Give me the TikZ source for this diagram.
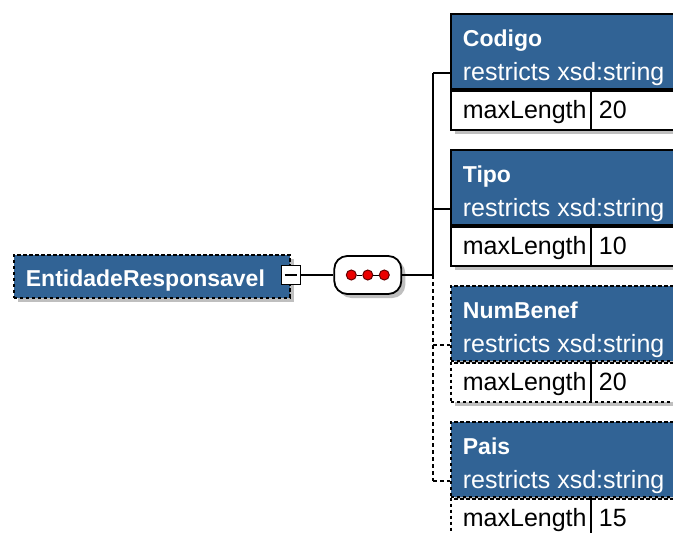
\documentclass[tikz,border=0pt]{standalone}
\usepackage{fontspec}
\setmainfont{Liberation Sans}
\usepackage{tikz}
\usetikzlibrary{positioning,shadows}

\definecolor{xsdblue}{RGB}{49,99,149}
\definecolor{seqred}{RGB}{235,0,0}

\tikzset{
	optional/.style={dash pattern=on 3.5pt off 2.5pt},
	optlink/.style={dash pattern=on 4pt off 3pt},
	boxshadow/.style={drop shadow={shadow xshift=4pt, shadow yshift=-4pt, fill=black, opacity=.25}},
	rootbox/.style={draw, fill=xsdblue, optional, boxshadow, anchor=north west, minimum width=276, minimum height=43, inner sep=0},
	elhead/.style={draw, fill=xsdblue, boxshadow, anchor=north west, minimum width=260, minimum height=75, inner sep=0},
	elfacet/.style={draw, fill=white, boxshadow, anchor=north west, minimum width=260, minimum height=39, inner sep=0},
	eltitle/.style={anchor=base west, inner sep=0, text=white, font=\fontsize{23}{27}\selectfont\bfseries},
	eltype/.style={anchor=base west, inner sep=0, text=white, font=\fontsize{25}{29}\selectfont},
	facettext/.style={anchor=base west, inner sep=0, text=black, font=\fontsize{25}{29}\selectfont},
	minusbox/.style={draw, fill=white, minimum size=19, inner sep=0},
	seqbox/.style={draw, fill=white, rounded corners=13pt, minimum width=67, minimum height=38, inner sep=0, boxshadow},
	seqdot/.style={circle, draw=black!60!red, line width=1pt, fill=seqred, minimum size=10, inner sep=0}
}

\begin{document}
\begin{tikzpicture}[x=1pt, y=-1pt, line width=1.8pt]
\useasboundingbox (0,0) rectangle (673,533);

% root element with its sequence
\node[rootbox] (root) at (13,254) {};
\node[eltitle] (rootname) at ([shift={(12,32)}]root.north west) {EntidadeResponsavel};
\node[minusbox] (minus) at (291,275) {};
\draw ([xshift=4pt]minus.west) -- ([xshift=-4pt]minus.east);
\node[seqbox, right=32pt of minus] (seq) {};
\node[seqdot] (dot2) at (seq.center) {};
\node[seqdot, left=5.5pt of dot2] (dot1) {};
\node[seqdot, right=5.5pt of dot2] (dot3) {};
\draw[line width=1pt] (dot1) -- (dot2) (dot2) -- (dot3);
\coordinate[right=31pt of seq] (fork);
\draw (minus) -- (seq);
\draw (seq) -- (fork);

% child elements
\foreach \i/\ename/\elen/\eline/\elink in {1/Codigo/20/solid/solid, 2/Tipo/10/solid/solid, 3/NumBenef/20/optional/optlink, 4/Pais/15/optional/optlink}
{
	\node[elhead, \eline] (h\i) at (450,{136*\i-123}) {};
	\node[elfacet, \eline] (f\i) at (h\i.south west) {};
	\draw ([xshift=141pt]f\i.north west) -- ([xshift=141pt]f\i.south west);
	\node[eltitle] (n\i) at ([shift={(12,33)}]h\i.north west) {\ename};
	\node[eltype] (t\i) at ([shift={(12,67)}]h\i.north west) {restricts xsd:string};
	\node[facettext] (k\i) at ([shift={(12,29)}]f\i.north west) {maxLength};
	\node[facettext] (v\i) at ([shift={(148,29)}]f\i.north west) {\elen};
	\coordinate (c\i) at ([yshift=17pt]h\i.south west);
	\draw[\elink] (fork |- c\i) -- (c\i);
}
\draw (fork |- c1) -- (fork);
\draw[optlink] (fork) -- (fork |- c4);
\end{tikzpicture}
\end{document}
